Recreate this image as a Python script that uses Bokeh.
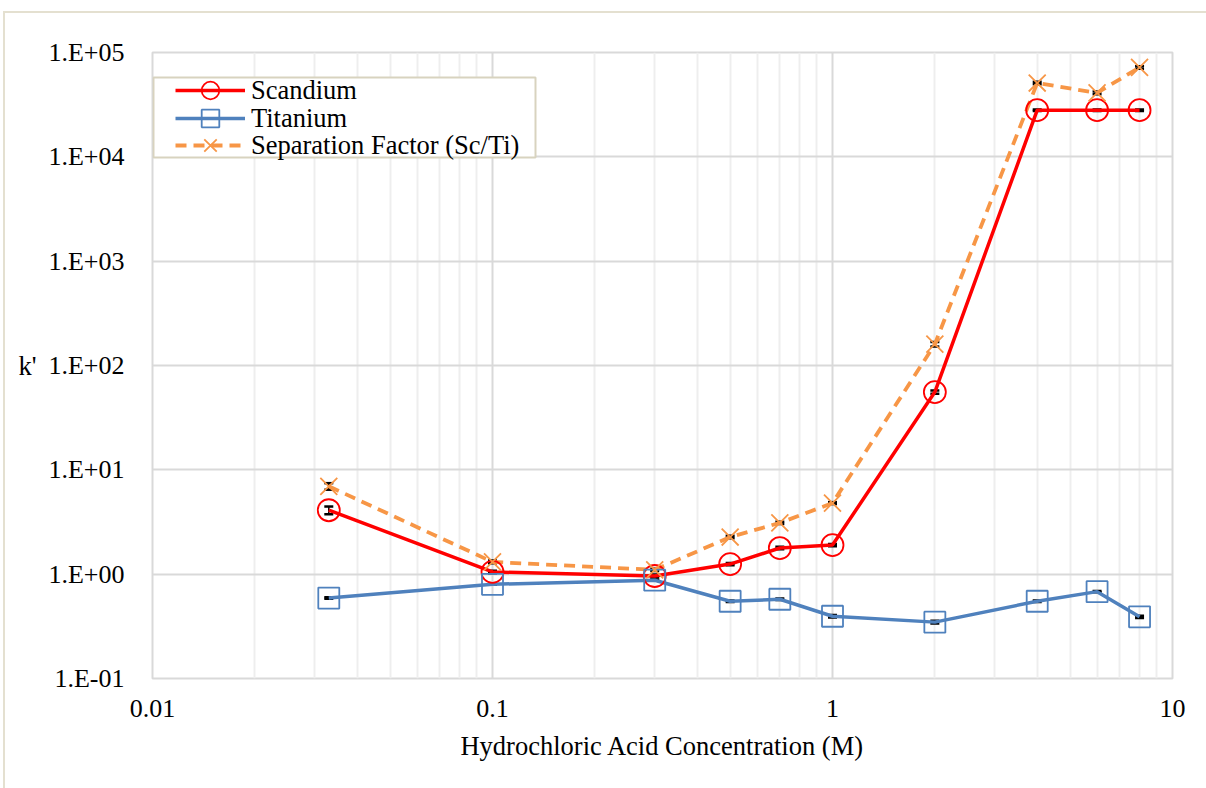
from bokeh.plotting import figure
from bokeh.models import (ColumnDataSource, Legend, LegendItem, FixedTicker, Label,
                          Whisker, TeeHead, Range1d, BoxAnnotation, LinearAxis)
from bokeh.embed import file_html
from bokeh.resources import INLINE

# HCl concentration (M)
hcl = [0.033, 0.1, 0.3, 0.5, 0.7, 1.0, 2.0, 4.0, 6.0, 8.0]

# distribution ratios k'
scandium = [4.1, 1.05, 0.96, 1.25, 1.78, 1.9, 55.6, 28000, 28000, 28000]
titanium = [0.59, 0.80, 0.875, 0.55, 0.575, 0.395, 0.347, 0.55, 0.68, 0.39]
separation = [6.95, 1.31, 1.10, 2.27, 3.10, 4.80, 160, 51000, 41000, 72000]

# error estimates
scandium_err = [0.35, 0.03, 0.03, 0.03, 0.05, 0.05, 2.0, 500, 500, 500]
titanium_err = [0.01, 0.01, 0.01, 0.01, 0.01, 0.01, 0.01, 0.01, 0.01, 0.01]
separation_err = [0.5, 0.04, 0.03, 0.06, 0.08, 0.1, 8, 1500, 1200, 2000]

y_ticks = [0.1, 1, 10, 100, 1000, 10000, 100000]
y_labels = ["1.E-01", "1.E+00", "1.E+01", "1.E+02", "1.E+03", "1.E+04", "1.E+05"]
x_ticks = [0.01, 0.1, 1, 10]
x_labels = ["0.01", "0.1", "1", "10"]

FONT = "Liberation Serif"
FS = "26px"
FS_BIG = "26.5px"

p = figure(width=1203, height=777, x_axis_type="log", y_axis_type="log",
           x_range=Range1d(0.01, 10), y_range=Range1d(0.1, 100000),
           output_backend="svg", toolbar_location=None,
           min_border_left=147, min_border_right=36,
           min_border_top=39, min_border_bottom=112)
p.margin = (11, 0, 0, 3)
p.styles = {"border-left": "2px solid #e4e0d0", "border-top": "2px solid #e4e0d0"}
p.background_fill_color = "white"
p.border_fill_color = "white"
p.outline_line_color = "#d9d9d9"
p.outline_line_width = 2

minor_x = [m * 10.0 ** e for e in (-2, -1, 0) for m in range(2, 10)]
p.xaxis.ticker = FixedTicker(ticks=x_ticks, minor_ticks=minor_x)
p.yaxis.ticker = FixedTicker(ticks=y_ticks, minor_ticks=[])
p.xaxis.major_label_overrides = {t: l for t, l in zip(x_ticks, x_labels)}
p.yaxis.major_label_overrides = {t: l for t, l in zip(y_ticks, y_labels)}

for ax in (p.xaxis, p.yaxis):
    ax.axis_line_color = None
    ax.major_tick_line_color = None
    ax.minor_tick_line_color = None
    ax.major_label_text_font = FONT
    ax.major_label_text_font_size = FS
    ax.major_label_text_color = "black"
    ax.axis_label_text_font = FONT
    ax.axis_label_text_font_size = FS_BIG
    ax.axis_label_text_font_style = "normal"
    ax.axis_label_text_color = "black"
p.xaxis.major_label_standoff = 15
p.yaxis.major_label_standoff = 22
p.xaxis.axis_label = "Hydrochloric Acid Concentration (M)"
p.xaxis.axis_label_standoff = 11

# y-axis title "k'" written horizontally
if "axis_label_orientation" in LinearAxis.properties():
    p.yaxis.axis_label = "k'"
    p.yaxis.axis_label_orientation = "horizontal"
    p.yaxis.axis_label_standoff = 9
else:
    p.add_layout(Label(x=-122, y=100, x_units="screen", text="k'", text_font=FONT,
                       text_font_size=FS_BIG, text_align="center",
                       text_baseline="middle", text_color="black"))

p.xgrid.grid_line_color = "#d9d9d9"
p.xgrid.grid_line_width = 2
p.xgrid.minor_grid_line_color = "#eeeeee"
p.xgrid.minor_grid_line_width = 2
p.ygrid.grid_line_color = "#d9d9d9"
p.ygrid.grid_line_width = 2

src = ColumnDataSource(dict(
    x=hcl, sc=scandium, ti=titanium, sf=separation,
    sc_lo=[v - e for v, e in zip(scandium, scandium_err)],
    sc_hi=[v + e for v, e in zip(scandium, scandium_err)],
    ti_lo=[v - e for v, e in zip(titanium, titanium_err)],
    ti_hi=[v + e for v, e in zip(titanium, titanium_err)],
    sf_lo=[v - e for v, e in zip(separation, separation_err)],
    sf_hi=[v + e for v, e in zip(separation, separation_err)],
))

RED = "#ff0000"
BLUE = "#4f81bd"
ORANGE = "#f79646"

sc_line = p.line("x", "sc", source=src, line_color=RED, line_width=3.5)
ti_line = p.line("x", "ti", source=src, line_color=BLUE, line_width=3.5)
sf_line = p.line("x", "sf", source=src, line_color=ORANGE, line_width=3.8,
                 line_dash="11 7")

sc_pts = p.scatter("x", "sc", source=src, marker="circle", size=22,
                   fill_color=None, line_color=RED, line_width=1.8)
ti_pts = p.scatter("x", "ti", source=src, marker="square", size=21,
                   fill_color=None, line_color=BLUE, line_width=1.8)
sf_pts = p.scatter("x", "sf", source=src, marker="x", size=24,
                   line_color=ORANGE, line_width=1.8)

for lo, hi in (("sc_lo", "sc_hi"), ("ti_lo", "ti_hi"), ("sf_lo", "sf_hi")):
    w = Whisker(base="x", lower=lo, upper=hi, source=src, dimension="height",
                line_color="black", line_width=1.5,
                upper_head=TeeHead(size=9, line_color="black", line_width=2.5),
                lower_head=TeeHead(size=9, line_color="black", line_width=2.5))
    p.add_layout(w)

# legend frame (white box with a beige border), drawn behind the legend entries
legend_box = BoxAnnotation(left=1, right=383, bottom=521, top=601,
                           left_units="screen", right_units="screen",
                           bottom_units="screen", top_units="screen",
                           fill_color="white", fill_alpha=1.0,
                           line_color="#d8d3bf", line_width=2, line_alpha=1.0)
p.add_layout(legend_box)

# one single-entry legend per series, so each row can use a tall glyph box
# (full-size markers) while the rows keep a tight pitch
entries = [
    ("Scandium", [sc_line, sc_pts], 566),
    ("Titanium", [ti_line, ti_pts], 538),
    ("Separation Factor (Sc/Ti)", [sf_line, sf_pts], 511),
]
for label, rends, bottom in entries:
    lg = Legend(items=[LegendItem(label=label, renderers=rends)], location=(23, bottom))
    lg.label_text_font = FONT
    lg.label_text_font_size = FS_BIG
    lg.label_text_color = "black"
    lg.glyph_width = 70
    lg.glyph_height = 44
    lg.label_height = 44
    lg.spacing = 0
    lg.padding = 0
    lg.margin = 0
    lg.label_standoff = 6
    lg.border_line_color = None
    lg.background_fill_alpha = 0.0
    p.add_layout(lg)

open("out.html", "w").write(file_html(p, INLINE))
